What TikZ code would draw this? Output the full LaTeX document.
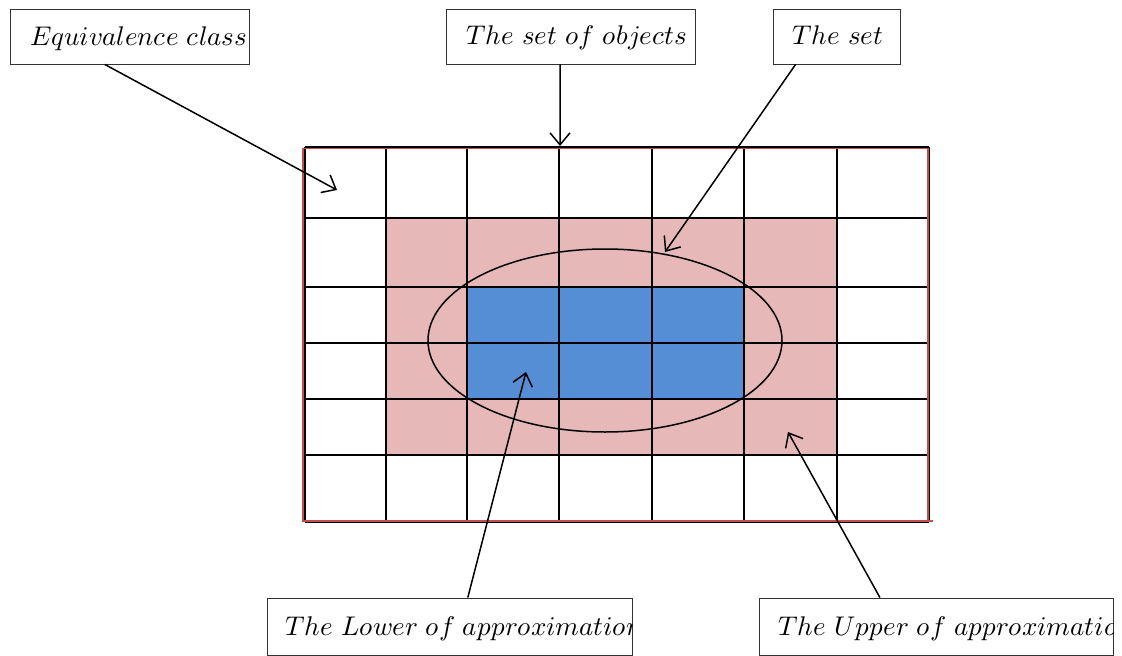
\documentclass[tikz,border=0pt]{standalone}
\usepackage{unicode-math}
\setmathfont{Latin Modern Math}
\usetikzlibrary{arrows.meta,calc,shapes.geometric}
\definecolor{pinkcell}{HTML}{E6B8B7}
\definecolor{bluecell}{HTML}{558ED5}
\definecolor{redline}{HTML}{C0504D}
\tikzset{
  lblbox/.style={draw=black!80, line width=0.9pt, fill=white, inner sep=0pt},
  lbltext/.style={anchor=base west, inner sep=0pt, font=\fontsize{27}{31}\selectfont},
  gridline/.style={line width=2pt, black},
  pointer/.style={line width=1.5pt, -{Straight Barb[length=12pt,width=20pt,line width=1.5pt]}}
}
\begin{document}
\begin{tikzpicture}[x=1pt,y=-1pt]
\useasboundingbox (0,0) rectangle (1122,656);
% fills
\fill[pinkcell] (386,218) rectangle (837,455);
\fill[bluecell] (467,287) rectangle (744,399);
% grid
\foreach \x in {305,386,467,559,652,744,837,929} \draw[gridline] (\x,147) -- (\x,522);
\foreach \y in {147,218,287,343,399,455,522} \draw[gridline] (305,\y) -- (929,\y);
% red outline
\draw[redline, line width=1.5pt] (303,148.5) rectangle (928,521);
\draw[redline, line width=1.5pt] (928,521) -- (933,521);
% ellipse (the set)
\node[draw, line width=1.5pt, ellipse, minimum width=354, minimum height=183, inner sep=0pt] (setshape) at (605,340.5) {};
% label boxes
\node[lblbox, minimum width=239, minimum height=55] (eq) at (129.5,36.5) {};
\node[lblbox, minimum width=249, minimum height=55] (obj) at (570.5,36.5) {};
\node[lblbox, minimum width=127, minimum height=55] (set) at (836.5,36.5) {};
\node[lblbox, minimum width=365, minimum height=57] (low) at (449.5,626.5) {};
\node[lblbox, minimum width=354, minimum height=57] (up) at (936,626.5) {};
% texts, clipped to boxes
\begin{scope}\clip (eq.south west) rectangle (eq.north east);
\node[lbltext] (eqt) at (30,45) {$Equivalence\ class$};\end{scope}
\begin{scope}\clip (obj.south west) rectangle (obj.north east);
\node[lbltext] (objt) at (466,44) {$The\ set\ of\ objects$};\end{scope}
\begin{scope}\clip (set.south west) rectangle (set.north east);
\node[lbltext] (sett) at (792,44) {$The\ set$};\end{scope}
\begin{scope}\clip (low.south west) rectangle (low.north east);
\node[lbltext] (lowt) at (285,635) {$The\ Lower\ of\ approximation$};\end{scope}
\begin{scope}\clip (up.south west) rectangle (up.north east);
\node[lbltext] (upt) at (778,635) {$The\ Upper\ of\ approximation$};\end{scope}
% pointer targets
\coordinate (eqtip) at (337,190);
\coordinate (objtip) at (560,146);
\coordinate (settip) at (665,252);
\coordinate (lowtip) at (526,372);
\coordinate (uptip) at (788,432);
% pointers
\draw[pointer] ($(eq.south west)!0.397!(eq.south east)$) -- (eqtip);
\draw[pointer] ($(obj.south west)!0.458!(obj.south east)$) -- (objtip);
\draw[pointer] ($(set.south west)!0.18!(set.south east)$) -- (settip);
\draw[pointer] ($(low.north west)!0.55!(low.north east)$) -- (lowtip);
\draw[pointer] ($(up.north west)!0.342!(up.north east)$) -- (uptip);
\end{tikzpicture}
\end{document}
